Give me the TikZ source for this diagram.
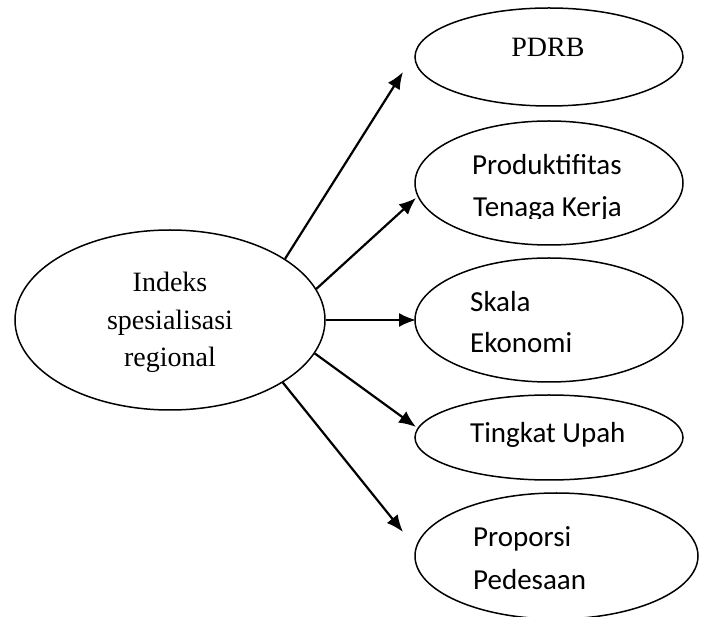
\documentclass[tikz,border=0pt]{standalone}
\usepackage{fontspec}
\setmainfont{Liberation Serif}
\newfontfamily\calib{Carlito}
\usetikzlibrary{shapes.geometric,arrows.meta}
\tikzset{
  oval/.style={draw, ellipse, line width=1.5pt, inner sep=0pt},
  serif/.style={font=\fontsize{28}{34}\selectfont, inner sep=0pt},
  sans/.style={font=\calib\fontsize{29}{35}\selectfont, inner sep=0pt, anchor=base west},
  link/.style={line width=2.2pt, -{Latex[length=17pt,width=14pt]}}
}
\begin{document}
\begin{tikzpicture}[x=1pt,y=-1pt]
\useasboundingbox (0,0) rectangle (705,617);
% ellipses
\node[oval, minimum width=310pt, minimum height=180pt] (main) at (170,320) {};
\node[oval, minimum width=268pt, minimum height=98pt] (pdrb) at (549,57) {};
\node[oval, minimum width=268pt, minimum height=124pt] (prod) at (549,183) {};
\node[oval, minimum width=268pt, minimum height=124pt] (skala) at (549,320) {};
\node[oval, minimum width=268pt, minimum height=85pt] (upah) at (549,437.5) {};
\node[oval, minimum width=283pt, minimum height=126pt] (prop) at (556.5,556) {};
% texts
\node[serif, anchor=base] (m1) at (170,292) {Indeks};
\node[serif, anchor=base] (m2) at (170,330) {spesialisasi};
\node[serif, anchor=base] (m3) at (170,367) {regional};
\node[serif, anchor=base] (t1) at (548,57) {PDRB};
\node[sans] (t2a) at (472,175) {Produktifitas};
\begin{scope}
\clip (460,185) rectangle (640,219);
\node[sans] (t2b) at (473,217) {Tenaga Kerja};
\end{scope}
\node[sans] (t3a) at (470,312) {Skala};
\node[sans] (t3b) at (470,353) {Ekonomi};
\node[sans] (t4) at (470,443) {Tingkat Upah};
\node[sans] (t5a) at (473,547) {Proporsi};
\node[sans] (t5b) at (473,590) {Pedesaan};
% arrow ends
\coordinate (e1) at (403,72);
\coordinate (e2) at (416,198);
\coordinate (e3) at (416,320);
\coordinate (e4) at (416,427);
\coordinate (e5) at (403,532);
\draw[link] (main.28.8) -- (e1);
\draw[link] (main.12.7) -- (e2);
\draw[link] (main.0) -- (e3);
\draw[link] (main.-13) -- (e4);
\draw[link] (main.-29) -- (e5);
\end{tikzpicture}
\end{document}
